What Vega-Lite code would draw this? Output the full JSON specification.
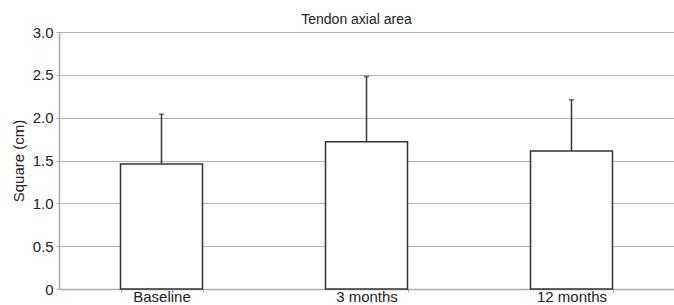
{
  "$schema": "https://vega.github.io/schema/vega-lite/v6.json",
  "width": 615,
  "height": 257,
  "autosize": {"type": "none"},
  "padding": {"left": 59, "top": 32, "right": 0, "bottom": 16},
  "background": "white",
  "config": {
    "view": {"stroke": null},
    "font": "Liberation Sans"
  },
  "title": {
    "text": "Tendon axial area",
    "fontSize": 14,
    "fontWeight": "normal",
    "color": "#222222",
    "font": "Liberation Sans",
    "anchor": "middle",
    "baseline": "alphabetic",
    "offset": 8,
    "dx": -10,
    "dy": 21
  },
  "data": {
    "values": [
      {"group": "Baseline", "mean": 1.46, "upper": 2.04},
      {"group": "3 months", "mean": 1.72, "upper": 2.48},
      {"group": "12 months", "mean": 1.61, "upper": 2.21}
    ]
  },
  "encoding": {
    "x": {
      "field": "group",
      "type": "nominal",
      "sort": null,
      "scale": {"paddingInner": 0.6, "paddingOuter": 0.3},
      "axis": {
        "title": null,
        "labelAngle": 0,
        "labelFontSize": 15,
        "labelColor": "#222222",
        "labelPadding": -3,
        "tickBand": "extent",
        "tickSize": 3,
        "tickColor": "#aaaaaa",
        "domainColor": "#aaaaaa",
        "domainWidth": 1.5
      }
    }
  },
  "layer": [
    {
      "mark": {"type": "bar", "fill": "white", "stroke": "#333333", "strokeWidth": 1.5},
      "encoding": {
        "y": {
          "field": "mean",
          "type": "quantitative",
          "scale": {"domain": [0, 3], "nice": false},
          "axis": {
            "title": "Square (cm)",
            "titleFontSize": 15,
            "titleFontWeight": "normal",
            "titleColor": "#222222",
            "titlePadding": 6,
            "values": [0, 0.5, 1, 1.5, 2, 2.5, 3],
            "labelExpr": "datum.value == 0 ? '0' : format(datum.value, '.1f')",
            "labelFontSize": 15,
            "labelColor": "#222222",
            "labelPadding": 3,
            "tickSize": 3,
            "tickColor": "#aaaaaa",
            "domainColor": "#aaaaaa",
            "domainWidth": 1.5,
            "grid": true,
            "gridColor": "#b0b0b0",
            "gridWidth": 1.2
          }
        }
      }
    },
    {
      "mark": {"type": "rule", "color": "#333333", "strokeWidth": 1.5},
      "encoding": {
        "y": {"field": "mean", "type": "quantitative"},
        "y2": {"field": "upper"}
      }
    },
    {
      "mark": {"type": "tick", "color": "#333333", "size": 5, "thickness": 1.5, "orient": "horizontal"},
      "encoding": {
        "y": {"field": "upper", "type": "quantitative"}
      }
    }
  ]
}
